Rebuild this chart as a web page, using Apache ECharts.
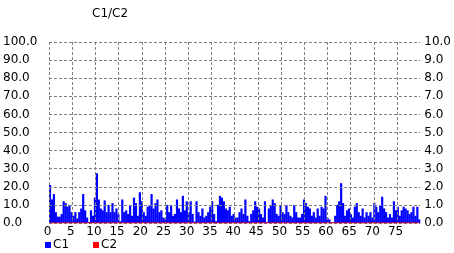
<!DOCTYPE html>
<html>
<head>
<meta charset="utf-8">
<script src="https://cdn.jsdelivr.net/npm/echarts@6/dist/echarts.min.js"></script>
<style>
html,body{margin:0;padding:0;background:#fff;}
#chart{width:454px;height:253px;}
</style>
</head>
<body>
<div id="chart"></div>
<script>
var titleText = 'C1/C2';
var seriesNames = ['C1', 'C2'];
var xTickLabels = ['0','5','10','15','20','25','30','35','40','45','50','55','60','65','70','75'];
var c1 = [
  21, 13, 16, 6, 3.5, 3.5, 5, 12, 11, 9, 10, 6, 4, 6, 2.5, 6,
  8, 16, 7, 3, 0.5, 7, 4, 14, 27.5, 13, 8, 7, 12.5, 6, 10, 6,
  11, 6, 8, 5, 1, 13, 6, 7, 5, 10, 4, 14, 11, 4, 17, 12,
  6, 4, 9, 10, 16, 8, 11, 13, 6, 7, 3, 2.5, 10, 6, 10, 4,
  5, 13, 8, 6, 15, 7, 12, 6, 12, 5, 0.8, 12, 6, 4, 8, 3,
  4, 6, 9, 12, 5, 1, 10, 15, 14, 12, 8, 7, 9, 4, 5, 3,
  3, 6, 8, 5, 13, 4, 1, 5, 7, 12, 9, 8, 5, 3, 12, 0.5,
  8, 10, 13, 11, 5, 4, 10, 6, 5, 10, 6, 4, 3, 10, 6, 3,
  3, 5, 13, 11, 9, 8, 4, 6, 3, 8, 4, 9, 8, 15, 3, 2,
  0.3, 0.3, 4, 10, 12, 22, 11, 4, 7, 8, 5, 3, 9, 11, 6, 4,
  8, 3, 6, 4, 6, 3, 11, 9, 6, 10, 14.5, 8, 6, 3, 5, 3,
  12, 7, 9, 4, 7, 9, 8, 7, 5, 6, 9, 4, 9, 2
];
var c2 = [
  0,0,0,0,0,0,0,0,0,0,0,0,0,0,0,0,0,0,0,0,0,0,0,0,0,0,0,0,0,0,0,0,
  0,0,0,0,0,0,0,0,0,0,0,0,0,0,0,0,0,0,0,0,0,0,0,0,0,0,0,0,0,0,0,0,
  0,0,0,0,0,0,0,0,0,0,0,0,0,0,0,0,0,0,0,0,0,0,0,0,0,0,0,0,0,0,0,0,
  0,0,0,0,0,0,0,0,0,0,0,0,0,0,0,0,0,0,0,0,0,0,0,0,0,0,0,0,0,0,0,0,
  0,0,0,0,0,0,0,0,0,0,0,0,0,0,0,0,0,0,0,0,0,0,0,0,0,0,0,0,0,0,0,0,
  0,0,0,0,0,0,0,0,0,0,0,0,0,0,0,0,0,0,0,0,0,0,0,0,0,0,0,0,0,0
];
var samples = c1.map(function (v, i) { return String(i); });

var font = 'DejaVu Sans, Verdana, sans-serif';
var gridLine = { show: true, lineStyle: { color: '#808080', type: [3, 2], width: 1 } };

var chart = echarts.init(document.getElementById('chart'), null, { renderer: 'canvas' });
chart.setOption({
  animation: false,
  backgroundColor: '#ffffff',
  title: {
    text: titleText, left: 87, top: 3,
    textStyle: { fontFamily: font, fontSize: 12, fontWeight: 'normal', color: '#000' }
  },
  legend: {
    data: seriesNames, left: 45, top: 239, icon: 'rect',
    itemWidth: 6, itemHeight: 6, itemGap: 24, padding: 0,
    textStyle: { fontFamily: font, fontSize: 12, color: '#000', padding: [6, 0, 0, -3] }
  },
  grid: { left: 48, right: 27, top: 42, bottom: 30, containLabel: false },
  xAxis: [
    { type: 'category', data: samples, show: false, boundaryGap: true },
    {
      type: 'value', min: 0, max: 80, interval: 5, position: 'bottom',
      axisLine: { show: false }, axisTick: { show: false },
      axisLabel: {
        fontFamily: font, fontSize: 12, color: '#000', margin: 3, padding: [0, 3, 0, 0],
        formatter: function (v) { var s = String(v); return xTickLabels.indexOf(s) >= 0 ? s : ''; }
      },
      splitLine: Object.assign({ showMaxLine: false }, gridLine)
    }
  ],
  yAxis: [
    {
      type: 'value', min: 0, max: 100, interval: 10, position: 'left',
      axisLine: { show: false }, axisTick: { show: false },
      axisLabel: { fontFamily: font, fontSize: 12, color: '#000', align: 'left', margin: 46,
        formatter: function (v) { return v.toFixed(1); } },
      splitLine: gridLine
    },
    {
      type: 'value', min: 0, max: 10, interval: 1, position: 'right',
      axisLine: { show: false }, axisTick: { show: false },
      axisLabel: { fontFamily: font, fontSize: 12, color: '#000', align: 'left', margin: 4,
        formatter: function (v) { return v.toFixed(1); } },
      splitLine: { show: false }
    }
  ],
  series: [
    {
      name: seriesNames[0], type: 'bar', xAxisIndex: 0, yAxisIndex: 0,
      data: c1, barWidth: 2.2, barGap: '-100%', z: -1,
      itemStyle: { color: '#0000ff' }
    },
    {
      name: seriesNames[1], type: 'line', xAxisIndex: 0, yAxisIndex: 1,
      data: c2, symbol: 'none', lineStyle: { color: '#ff0000', width: 1 },
      itemStyle: { color: '#ff0000' }, z: 5
    }
  ]
});
</script>
</body>
</html>
